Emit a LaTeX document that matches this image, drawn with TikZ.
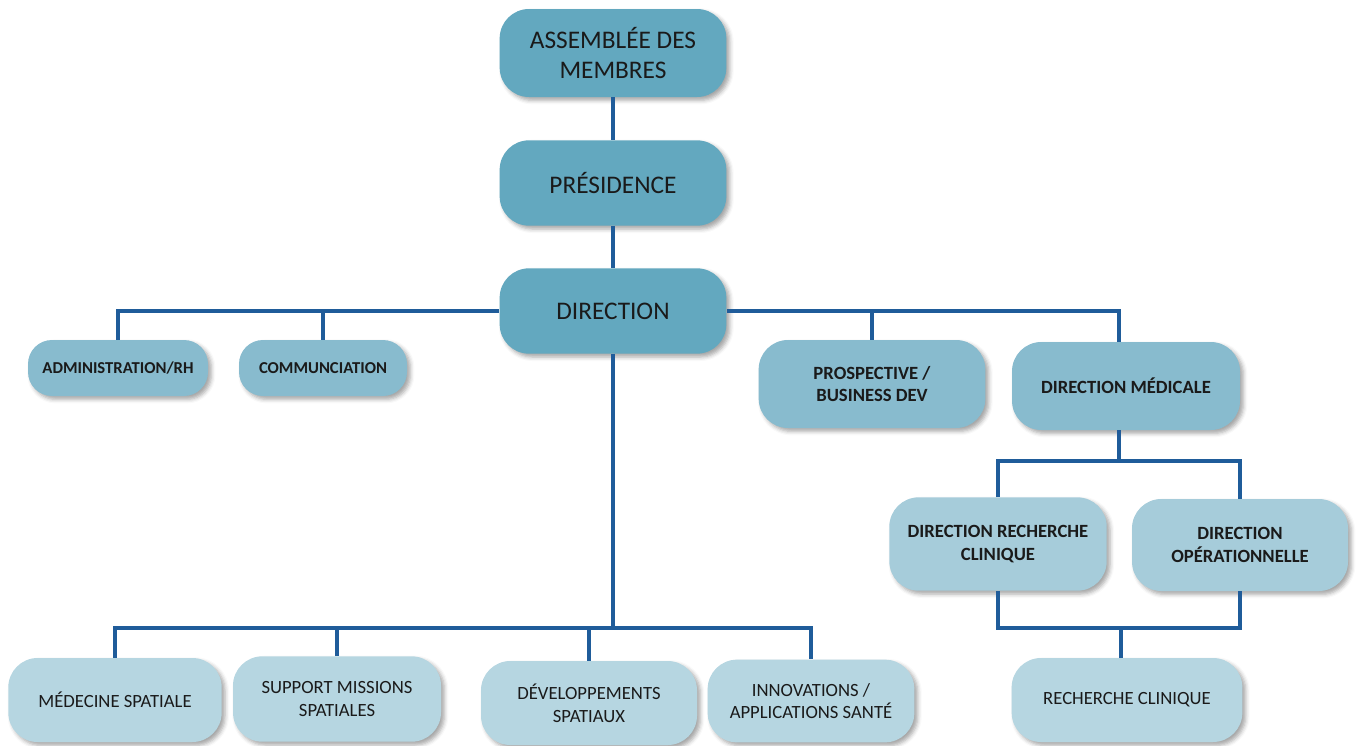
\documentclass[tikz,border=0pt]{standalone}
\usepackage{fontspec}
\setmainfont{Carlito}
\usetikzlibrary{shadows,shadows.blur,calc}
\definecolor{lineblue}{HTML}{1F5C9A}
\definecolor{topc}{HTML}{63A8BF}
\definecolor{midc}{HTML}{88BBCE}
\definecolor{thirdc}{HTML}{A6CCDA}
\definecolor{lowc}{HTML}{B6D6E1}
\definecolor{txt}{HTML}{1A1A1A}
\begin{document}
\begin{tikzpicture}[x=0.75pt,y=-0.75pt,
  box/.style={rounded corners=22pt, align=center, text=txt, inner sep=2pt,
    blur shadow={shadow xshift=2.5pt, shadow yshift=-2.5pt, shadow blur radius=3pt, shadow opacity=35}},
  topbox/.style={box, fill=topc, minimum width=170pt, minimum height=66pt,
    font=\fontsize{19}{22}\selectfont},
  smallbox/.style={box, fill=midc, minimum height=42pt, rounded corners=18pt,
    font=\bfseries\fontsize{12.5}{15}\selectfont},
  midbox/.style={box, fill=midc, minimum width=170pt, minimum height=66pt,
    font=\bfseries\fontsize{14}{17}\selectfont},
  thirdbox/.style={box, fill=thirdc, minimum width=163pt, minimum height=70pt,
    font=\bfseries\fontsize{14}{17}\selectfont},
  lowbox/.style={box, fill=lowc, minimum height=63pt,
    font=\fontsize{14}{17}\selectfont},
  conn/.style={draw=lineblue, line width=2.4pt}
]
\useasboundingbox (0,0) rectangle (1357,746);

% nodes
\node[topbox] (asm) at (613,53) {ASSEMBLÉE DES\\MEMBRES};
\node[topbox, minimum height=64pt] (pres) at (613,183) {PRÉSIDENCE};
\node[topbox, minimum height=64pt] (dir) at (613,311) {DIRECTION};

\node[smallbox, minimum width=135pt] (admin) at (118,368) {ADMINISTRATION/RH};
\node[smallbox, minimum width=126pt] (comm) at (323,368) {COMMUNCIATION};
\node[midbox] (prosp) at (872,384) {PROSPECTIVE /\\BUSINESS DEV};
\node[midbox, minimum width=171pt] (dmed) at (1126,386) {DIRECTION MÉDICALE};

\node[thirdbox] (drc) at (998,544) {DIRECTION RECHERCHE\\CLINIQUE};
\node[thirdbox, minimum width=162pt, minimum height=69pt] (dop) at (1240,545) {DIRECTION\\OPÉRATIONNELLE};
\node[lowbox, minimum width=173pt] (rc) at (1127,700) {RECHERCHE CLINIQUE};

\node[lowbox, minimum width=160pt] (ms) at (115,700) {MÉDECINE SPATIALE};
\node[lowbox, minimum width=156pt, minimum height=64pt] (sms) at (337,699) {SUPPORT MISSIONS\\SPATIALES};
\node[lowbox, minimum width=162pt] (ds) at (589,703) {DÉVELOPPEMENTS\\SPATIAUX};
\node[lowbox, minimum width=155pt, minimum height=62pt] (ias) at (811,701) {INNOVATIONS /\\APPLICATIONS SANTÉ};

% bus coordinates
\coordinate (busA) at (613,628);
\coordinate (busB) at (1119,461);
\coordinate (busC) at (1121,628);
\coordinate (medtop) at ($(dmed.north)+(-7,0)$);

% connectors
\draw[conn] (asm) -- (pres);
\draw[conn] (pres) -- (dir);
\draw[conn] (admin.north) |- (dir.west);
\draw[conn] (comm.north) -- (comm.north |- dir.west);
\draw[conn] (medtop) |- (dir.east);
\draw[conn] (prosp.north) -- (prosp.north |- dir.east);

\draw[conn] (dir.south) -- (busA);
\draw[conn] (ms.north) |- (ias.north |- busA) -- (ias.north);
\draw[conn] (sms.north) -- (sms.north |- busA);
\draw[conn] (ds.north) -- (ds.north |- busA);

\draw[conn] (dmed.south -| busB) -- (busB);
\draw[conn] (drc.north) |- (dop.north |- busB) -- (dop.north);

\draw[conn] (drc.south) |- (dop.south |- busC) -- (dop.south);
\draw[conn] (rc.north -| busC) -- (busC);
\end{tikzpicture}
\end{document}
